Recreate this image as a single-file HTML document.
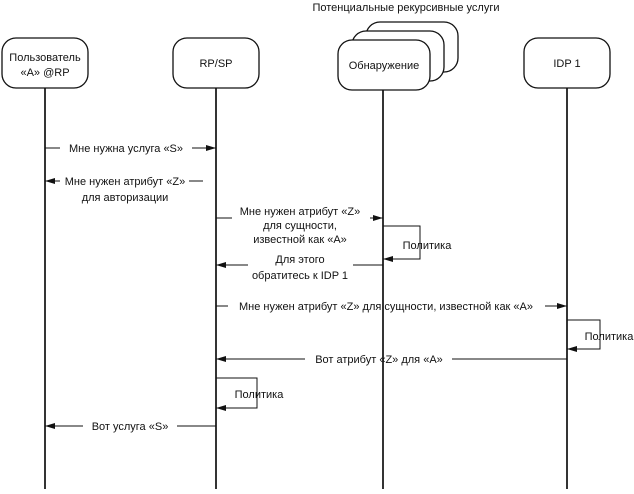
<!DOCTYPE html>
<html><head><meta charset="utf-8"><style>
body{margin:0;background:#fff}
svg text{font-family:"Liberation Sans",sans-serif;font-size:11px;fill:#111}
</style></head><body>
<svg width="634" height="489" viewBox="0 0 634 489" xmlns="http://www.w3.org/2000/svg">
<defs><marker id="a" markerWidth="10" markerHeight="6" refX="10" refY="3" orient="auto" markerUnits="userSpaceOnUse"><path d="M0,0 L10,3 L0,6z" fill="#111"/></marker></defs>
<g stroke="#111" stroke-width="1.7" fill="#fff">
<line x1="45" y1="88" x2="45" y2="489"/>
<line x1="216" y1="88" x2="216" y2="489"/>
<line x1="383" y1="90" x2="383" y2="489"/>
<line x1="567" y1="88" x2="567" y2="489"/>
</g>
<g stroke="#111" stroke-width="1.3" fill="#fff">
<rect x="2" y="38" width="86" height="50" rx="14"/>
<rect x="173" y="38" width="86" height="50" rx="14"/>
<rect x="366" y="22" width="92" height="50" rx="14"/>
<rect x="352" y="31" width="92" height="50" rx="14"/>
<rect x="338" y="40" width="92" height="50" rx="14"/>
<rect x="524" y="38" width="86" height="50" rx="14"/>
</g>
<g text-anchor="middle">
<text x="406" y="11">Потенциальные рекурсивные услуги</text>
<text x="45" y="61">Пользователь</text><text x="45" y="76">«A» @RP</text>
<text x="216" y="67">RP/SP</text>
<text x="384" y="69">Обнаружение</text>
<text x="567" y="67">IDP 1</text>
</g>
<g stroke="#111" stroke-width="1" fill="none">
<line x1="45" y1="148" x2="60" y2="148"/><line x1="192" y1="148" x2="216" y2="148" marker-end="url(#a)"/>
<line x1="60" y1="181" x2="45" y2="181" marker-end="url(#a)"/><line x1="189" y1="181" x2="203" y2="181"/>
<line x1="216" y1="218" x2="232" y2="218"/><line x1="370" y1="218" x2="383" y2="218" marker-end="url(#a)"/>
<polyline points="383,226 420,226 420,259 383,259" marker-end="url(#a)"/>
<line x1="248" y1="265" x2="216" y2="265" marker-end="url(#a)"/><line x1="383" y1="265" x2="353" y2="265"/>
<line x1="216" y1="306" x2="228" y2="306"/><line x1="545" y1="306" x2="567" y2="306" marker-end="url(#a)"/>
<polyline points="567,320 600,320 600,349 567,349" marker-end="url(#a)"/>
<line x1="567" y1="359" x2="452" y2="359"/><line x1="305" y1="359" x2="216" y2="359" marker-end="url(#a)"/>
<polyline points="216,378 257,378 257,408 216,408" marker-end="url(#a)"/>
<line x1="216" y1="426" x2="177" y2="426"/><line x1="83" y1="426" x2="45" y2="426" marker-end="url(#a)"/>
</g>
<g text-anchor="middle">
<text x="126" y="152">Мне нужна услуга «S»</text>
<text x="125" y="185">Мне нужен атрибут «Z»</text><text x="125" y="201">для авторизации</text>
<text x="300" y="215">Мне нужен атрибут «Z»</text><text x="300" y="229">для сущности,</text><text x="300" y="243">известной как «A»</text>
<text x="427" y="249">Политика</text>
<text x="300" y="263">Для этого</text><text x="300" y="279">обратитесь к IDP 1</text>
<text x="386" y="310">Мне нужен атрибут «Z» для сущности, известной как «A»</text>
<text x="609" y="340">Политика</text>
<text x="379" y="363">Вот атрибут «Z» для «A»</text>
<text x="259" y="398">Политика</text>
<text x="130" y="430">Вот услуга «S»</text>
</g>
</svg>
</body></html>
